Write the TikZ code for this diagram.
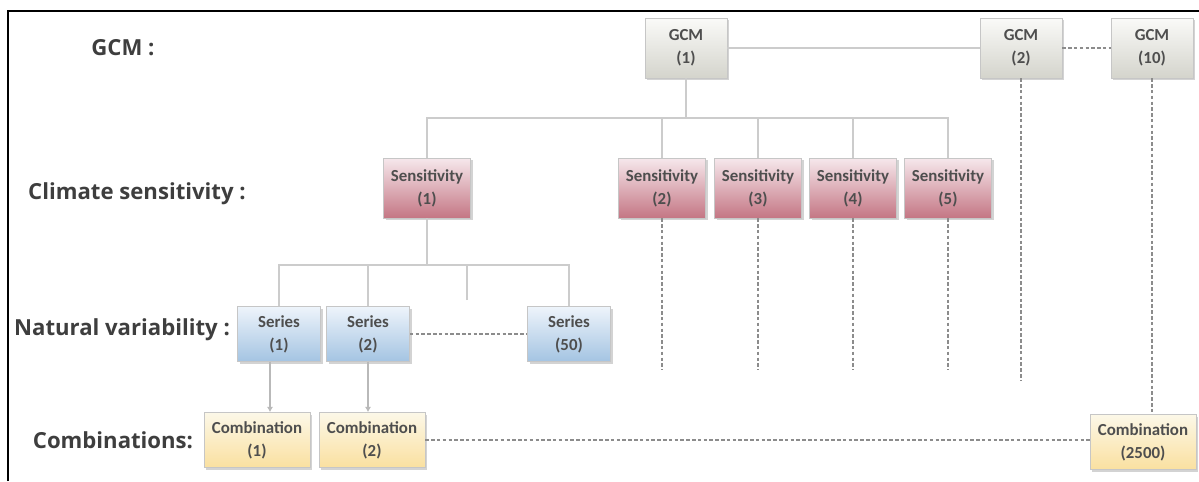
\documentclass[tikz,border=0pt]{standalone}
\usepackage{fontspec}
\setmainfont{Carlito}
\newfontfamily\labelfont{Open Sans}
\usetikzlibrary{shadows,arrows.meta}

\definecolor{gcmtop}{RGB}{250,250,248}
\definecolor{gcmbot}{RGB}{212,212,204}
\definecolor{senstop}{RGB}{246,232,236}
\definecolor{sensbot}{RGB}{196,118,132}
\definecolor{sertop}{RGB}{238,244,251}
\definecolor{serbot}{RGB}{164,196,226}
\definecolor{combtop}{RGB}{252,248,232}
\definecolor{combbot}{RGB}{250,224,160}
\definecolor{boxtext}{RGB}{78,78,78}
\definecolor{labeltext}{RGB}{62,62,62}

\tikzset{
  basebox/.style={draw=gray!45, align=center, font=\fontsize{9.6}{13}\selectfont\bfseries,
    text=boxtext, inner sep=1pt, minimum height=1.16cm,
    drop shadow={shadow xshift=1.2pt, shadow yshift=-1.2pt, opacity=0.35}},
  gcmbox/.style={basebox, top color=gcmtop, bottom color=gcmbot, minimum width=1.64cm, minimum height=1.2cm},
  sensbox/.style={basebox, top color=senstop, bottom color=sensbot, minimum width=1.74cm, minimum height=1.2cm},
  seriesbox/.style={basebox, top color=sertop, bottom color=serbot, minimum width=1.66cm, minimum height=1.1cm},
  combbox/.style={basebox, top color=combtop, bottom color=combbot, minimum width=2.12cm, minimum height=1.1cm},
  levellabel/.style={font=\labelfont\fontsize{12.6}{15}\selectfont\bfseries, text=labeltext},
  solidline/.style={gray!40, line width=0.9pt},
  dashline/.style={gray!90, line width=1.5pt, dash pattern=on 2pt off 1.3pt},
  arrowline/.style={gray!55, line width=0.7pt, -{Latex[length=3pt,width=3.5pt]}}
}

\begin{document}
\begin{tikzpicture}[x=0.02cm, y=-0.02cm]
        \useasboundingbox (0,0) rectangle (1199,481);
        % Frame
        \draw[black, line width=1.6pt] (8,481) |- (1199,11);

        % Level labels
        \node[levellabel] (lgcm) at (123,48) {GCM :};
        \node[levellabel] (lsens) at (137,194) {Climate sensitivity :};
        \node[levellabel] (lvar) at (122,330) {Natural variability :};
        \node[levellabel] (lcomb) at (113,440) {Combinations:};

        % GCMs
        \node[gcmbox] (g1) at (686,48) {GCM\\(1)};
        \node[gcmbox] (g2) at (1021,48) {GCM\\(2)};
        \node[gcmbox] (g10) at (1152,48) {GCM\\(10)};

        % Sensitivities
        \node[sensbox] (s1) at (427,188) {Sensitivity\\(1)};
        \node[sensbox] (s2) at (662,188) {Sensitivity\\(2)};
        \node[sensbox] (s3) at (758,188) {Sensitivity\\(3)};
        \node[sensbox] (s4) at (853,188) {Sensitivity\\(4)};
        \node[sensbox] (s5) at (948,188) {Sensitivity\\(5)};

        % Series
        \node[seriesbox] (r1) at (279,334) {Series\\(1)};
        \node[seriesbox] (r2) at (368,334) {Series\\(2)};
        \node[seriesbox] (r50) at (569,334) {Series\\(50)};

        % Combinations
        \node[combbox] (c1) at (257,440) {Combination\\(1)};
        \node[combbox] (c2) at (372,440) {Combination\\(2)};
        \node[combbox] (c2500) at (1143,442) {Combination\\(2500)};

        % Bus coordinates
        \coordinate (bus1) at (686,118);
        \coordinate (bus2) at (427,265);
        \coordinate (rgap) at (467,300);
        \coordinate (lowend) at (0,370);
        \coordinate (lowend2) at (0,380);

        % GCM row links
        \draw[solidline] (g1.east) -- (g2.west);
        \draw[dashline] (g2.east) -- (g10.west);

        % GCM (1) to sensitivities
        \draw[solidline] (g1.south) -- (bus1);
        \draw[solidline] (s1.north) |- (bus1) -| (s5.north);
        \draw[solidline] (s2.north) -- (s2.north |- bus1);
        \draw[solidline] (s3.north) -- (s3.north |- bus1);
        \draw[solidline] (s4.north) -- (s4.north |- bus1);

        % Sensitivity (1) to series
        \draw[solidline] (s1.south) -- (bus2);
        \draw[solidline] (r1.north) |- (bus2) -| (r50.north);
        \draw[solidline] (r2.north) -- (r2.north |- bus2);
        \draw[solidline] (rgap) -- (rgap |- bus2);
        \draw[dashline] (r2.east) -- (r50.west);

        % Dashed continuations
        \draw[dashline] (s2.south) -- (s2.south |- lowend);
        \draw[dashline] (s3.south) -- (s3.south |- lowend);
        \draw[dashline] (s4.south) -- (s4.south |- lowend);
        \draw[dashline] (s5.south) -- (s5.south |- lowend);
        \draw[dashline] (g2.south) -- (g2.south |- lowend2);
        \draw[dashline] (g10.south) -- (g10.south |- c2500.north);

        % Series to combinations
        \draw[arrowline] ([xshift=-0.18cm]r1.south) -- ([xshift=-0.18cm]r1.south |- c1.north);
        \draw[arrowline] (r2.south) -- (r2.south |- c2.north);
        \draw[dashline] (c2.east) -- (c2.east -| c2500.west);
    \end{tikzpicture}
\end{document}
